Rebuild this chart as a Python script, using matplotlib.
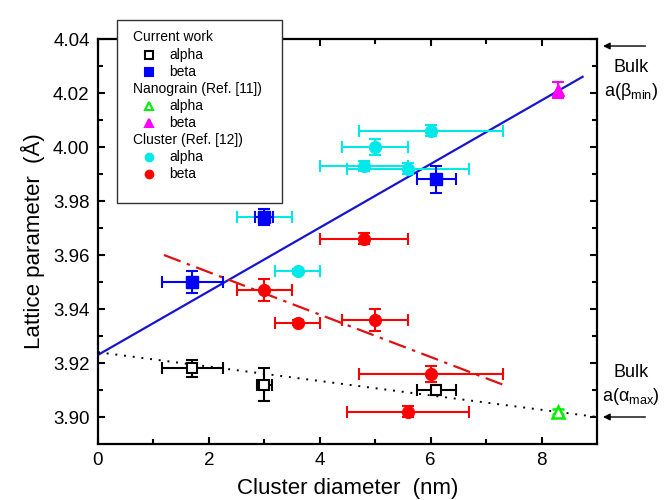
import matplotlib
matplotlib.use('Agg')
import matplotlib.pyplot as plt
from matplotlib.patches import Rectangle

plt.rcParams['font.family'] = ['Liberation Sans', 'DejaVu Sans']
plt.rcParams['mathtext.fontset'] = 'custom'
plt.rcParams['mathtext.rm'] = 'Liberation Sans'
plt.rcParams['mathtext.default'] = 'regular'

# current work
cur_alpha_x = [1.7, 3.0, 6.1]
cur_alpha_y = [3.918, 3.912, 3.910]
cur_alpha_xerr = [0.55, 0.13, 0.35]
cur_alpha_yerr = [0.003, 0.006, 0.002]

cur_beta_x = [1.7, 3.0, 6.1]
cur_beta_y = [3.950, 3.974, 3.988]
cur_beta_xerr = [0.55, 0.16, 0.35]
cur_beta_yerr = [0.004, 0.003, 0.005]

# nanograin (Ref. [11])
nano_alpha_x = [8.3]
nano_alpha_y = [3.902]
nano_alpha_yerr = [0.001]
nano_beta_x = [8.3]
nano_beta_y = [4.021]
nano_beta_yerr = [0.003]

# cluster (Ref. [12])
cl_alpha_x = [3.0, 3.6, 4.8, 5.0, 5.6, 6.0]
cl_alpha_y = [3.974, 3.954, 3.993, 4.000, 3.992, 4.006]
cl_alpha_xerr = [0.5, 0.4, 0.8, 0.6, 1.1, 1.3]
cl_alpha_yerr = [0.002, 0.001, 0.002, 0.003, 0.002, 0.002]

cl_beta_x = [3.0, 3.6, 4.8, 5.0, 5.6, 6.0]
cl_beta_y = [3.947, 3.935, 3.966, 3.936, 3.902, 3.916]
cl_beta_xerr = [0.5, 0.4, 0.8, 0.6, 1.1, 1.3]
cl_beta_yerr = [0.004, 0.001, 0.002, 0.004, 0.002, 0.003]

# fitted lines
beta_fit_x = [0, 8.74]
beta_fit_y = [3.923, 4.026]
alpha_fit_x = [0, 9.0]
alpha_fit_y = [3.924, 3.900]
cl_fit_x = [1.19, 7.30]
cl_fit_y = [3.960, 3.912]

bulk_beta = 4.0374
bulk_alpha = 3.900

BLUE = '#0000ff'
CYAN = '#00e8e8'
RED = '#ff0000'
MAG = '#ff00ff'
GREEN = '#00ee00'

fig = plt.figure(figsize=(6.68, 5.0), dpi=100)
ax = fig.add_axes([0.1467, 0.112, 0.747, 0.810])

eb = dict(capsize=4.5, elinewidth=1.5, capthick=1.5, linestyle='none')

ax.plot(beta_fit_x, beta_fit_y, color='#1515d0', lw=1.6, zorder=1)
ax.plot(alpha_fit_x, alpha_fit_y, color='black', lw=1.4, linestyle=(0, (1, 3.5)), zorder=1)
ax.plot(cl_fit_x, cl_fit_y, color='#e01010', lw=1.6, linestyle=(0, (8, 3, 1.5, 3)), zorder=1)

ax.errorbar(cl_alpha_x, cl_alpha_y, xerr=cl_alpha_xerr, yerr=cl_alpha_yerr, fmt='o',
            color=CYAN, ms=8.5, zorder=2, **eb)
ax.errorbar(cl_beta_x, cl_beta_y, xerr=cl_beta_xerr, yerr=cl_beta_yerr, fmt='o',
            color=RED, ms=8.5, zorder=2, **eb)
ax.errorbar(cur_beta_x, cur_beta_y, xerr=cur_beta_xerr, yerr=cur_beta_yerr, fmt='s',
            color=BLUE, ms=8, zorder=3, **eb)
ax.errorbar(cur_alpha_x, cur_alpha_y, xerr=cur_alpha_xerr, yerr=cur_alpha_yerr, fmt='s',
            color='black', mfc='white', mew=1.5, ms=7, zorder=3, **eb)
ax.errorbar(nano_alpha_x, nano_alpha_y, yerr=nano_alpha_yerr, fmt='^',
            color=GREEN, mfc='white', mew=1.8, ms=9, zorder=3, **eb)
ax.errorbar(nano_beta_x, nano_beta_y, yerr=nano_beta_yerr, fmt='^',
            color=MAG, ms=9, zorder=3, **eb)

ax.set_xlim(0, 9)
ax.set_ylim(3.89, 4.04)
ax.set_xticks([0, 2, 4, 6, 8])
ax.set_xticks([1, 3, 5, 7], minor=True)
ax.set_yticks([3.90, 3.92, 3.94, 3.96, 3.98, 4.00, 4.02, 4.04])
ax.set_yticks([3.91, 3.93, 3.95, 3.97, 3.99, 4.01, 4.03], minor=True)
ax.set_yticklabels(['%.2f' % v for v in ax.get_yticks()])
ax.tick_params(which='both', direction='in', top=True, right=True, width=1.5)
ax.tick_params(which='major', length=5, labelsize=13.5, pad=6)
ax.tick_params(which='minor', length=3.5)
for s in ax.spines.values():
    s.set_linewidth(1.6)

ax.set_xlabel('Cluster diameter  (nm)', fontsize=16, labelpad=6)
ax.set_ylabel('Lattice parameter  (\u00c5)', fontsize=16, labelpad=6)

# bulk markers on the right
tr = ('axes fraction', 'data')
arrow = dict(arrowstyle='-|>', color='black', lw=1.0, mutation_scale=10, shrinkA=0, shrinkB=0)
ax.annotate('', xy=(1.012, bulk_beta), xycoords=tr, xytext=(1.097, bulk_beta), textcoords=tr,
            arrowprops=arrow, annotation_clip=False)
ax.annotate('', xy=(1.012, bulk_alpha), xycoords=tr, xytext=(1.097, bulk_alpha), textcoords=tr,
            arrowprops=arrow, annotation_clip=False)
ax.text(1.068, 4.0293, 'Bulk', transform=ax.get_yaxis_transform(), ha='center', va='center',
        fontsize=13, clip_on=False)
ax.text(1.068, 4.0205, 'a(\u03b2$_{min}$)', transform=ax.get_yaxis_transform(), ha='center',
        va='center', fontsize=13, clip_on=False)
ax.text(1.068, 3.9165, 'Bulk', transform=ax.get_yaxis_transform(), ha='center', va='center',
        fontsize=13, clip_on=False)
ax.text(1.068, 3.9075, 'a(\u03b1$_{max}$)', transform=ax.get_yaxis_transform(), ha='center',
        va='center', fontsize=13, clip_on=False)

# legend drawn by hand so group headers sit left of markers
groups = [
    ('Current work', [('s', 'black', 'white', 'alpha'), ('s', BLUE, BLUE, 'beta')]),
    ('Nanograin (Ref. [11])', [('^', GREEN, 'white', 'alpha'), ('^', MAG, MAG, 'beta')]),
    ('Cluster (Ref. [12])', [('o', CYAN, CYAN, 'alpha'), ('o', RED, RED, 'beta')]),
]
lax = fig.add_axes([0.175, 0.594, 0.247, 0.366], zorder=5)
lax.set_xlim(0, 1)
lax.set_ylim(0, 1)
lax.axis('off')
lax.add_patch(Rectangle((0, 0), 1, 1, transform=lax.transAxes, facecolor='white',
                        edgecolor='#333333', lw=1.0, clip_on=False))
row = 0
y0, step = 0.905, 0.0936
for head, items in groups:
    lax.text(0.099, y0 - row * step, head, fontsize=10, va='center', ha='left')
    row += 1
    for mk, ec, fc, lab in items:
        yy = y0 - row * step
        lax.plot([0.196], [yy], marker=mk, color=ec, mfc=fc, mew=1.5, ms=5.5, linestyle='none')
        lax.text(0.317, yy, lab, fontsize=10, va='center', ha='left')
        row += 1

fig.savefig('out.png', dpi=100)
